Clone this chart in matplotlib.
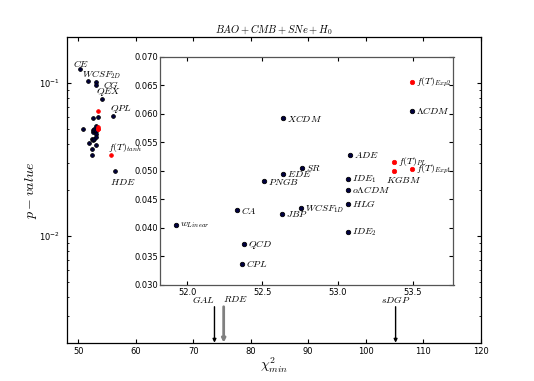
import matplotlib
matplotlib.use("Agg")
import matplotlib.pyplot as plt
from matplotlib.ticker import FormatStrFormatter, MultipleLocator

# models shown in the zoomed inset (and in the main panel)
inset_names = [r"w_{Linear}", "CA", "QCD", "CPL", "PNGB", "EDE", "SR", "JBP",
               r"WCSF_{1D}", "XCDM", "ADE", r"IDE_1", r"o\Lambda CDM", "HLG",
               r"IDE_2", r"f(T)_{PL}", "KGBM", r"f(T)_{Exp1}", r"f(T)_{Exp2}",
               r"\Lambda CDM"]
inset_chi2 = [51.925, 52.33, 52.376, 52.365, 52.511, 52.635, 52.763, 52.628,
              52.756, 52.635, 53.082, 53.07, 53.07, 53.07, 53.07, 53.378,
              53.378, 53.491, 53.491, 53.491]
inset_p = [0.0405, 0.0431, 0.0371, 0.0337, 0.0482, 0.0494, 0.0505, 0.0424,
           0.0434, 0.0592, 0.0527, 0.0486, 0.0467, 0.0442, 0.0392, 0.0516,
           0.0500, 0.0503, 0.0655, 0.0605]
inset_ft = [False] * 15 + [True] * 4 + [False]

# models only visible in the main panel
main_names = ["CE", r"WCSF_{2D}", "", "CG", "QEX", "QPL", r"f(T)_{tanh}", "HDE", ""]
main_chi2 = [50.35, 51.74, 53.03, 53.03, 54.18, 55.99, 55.64, 56.39, 50.87]
main_p = [0.124, 0.104, 0.1015, 0.0976, 0.079, 0.0609, 0.0337, 0.0266, 0.0503]
main_ft = [False, False, False, False, False, False, True, False, False]

# models with p-value below the plotted range
off_names = ["GAL", "RDE", "sDGP"]
off_chi2 = [73.7, 75.3, 105.2]

NAVY, RED = "#000040", "#ff0000"

plt.rcParams.update({
    "mathtext.fontset": "cm", "font.size": 7,
    "xtick.direction": "in", "ytick.direction": "in",
    "xtick.top": True, "ytick.right": True,
    "xtick.labelsize": 6, "ytick.labelsize": 6,
    "xtick.major.size": 3, "ytick.major.size": 3,
    "xtick.minor.size": 1.5, "ytick.minor.size": 1.5,
    "axes.linewidth": 0.9,
})

fig = plt.figure(figsize=(5.34, 3.81), dpi=100)
ax = fig.add_axes([66.7 / 534, 38.3 / 381, 414 / 534, 305.4 / 381])
ax.set_yscale("log")
ax.set_xlim(48, 120)
ax.set_ylim(0.002, 0.2)
ax.xaxis.set_major_locator(MultipleLocator(10))
ax.tick_params(axis="x", pad=3)
ax.tick_params(axis="y", which="both", pad=5)
ax.set_title(r"$BAO+CMB+SNe+H_0$", fontsize=7.5, pad=2)
ax.set_ylabel(r"$p-value$", fontsize=10)
ax.yaxis.set_label_coords(-0.066, 0.5)
ax.set_xlabel(r"$\chi^2_{min}$", fontsize=10)
ax.xaxis.set_label_coords(0.5, -0.044)


def dot(a, x, y, red, ms):
    if red:
        a.plot(x, y, "o", ms=ms, mfc=RED, mec=RED, mew=0.5, zorder=4)
    else:
        a.plot(x, y, "o", ms=ms, mfc=NAVY, mec="k", mew=0.6, zorder=3)


for x, y, r in zip(inset_chi2 + main_chi2, inset_p + main_p, inset_ft + main_ft):
    dot(ax, x, y, r, 2.7)

main_off = {"CE": (1, 6, "center"), r"WCSF_{2D}": (-6, 6, "left"),
            "CG": (7, 0, "left"), "QEX": (-6, 7, "left"), "QPL": (-3, 7, "left"),
            r"f(T)_{tanh}": (-3, 8, "left"), "HDE": (-5, -11, "left")}
for name, x, y in zip(main_names, main_chi2, main_p):
    if name:
        dx, dy, ha = main_off[name]
        ax.annotate(f"${name}$", (x, y), xytext=(dx, dy), textcoords="offset pixels",
                    ha=ha, va="center", fontsize=7)

for name, x in zip(off_names, off_chi2):
    c, lw = ("#808080", 2.0) if name == "RDE" else ("k", 1.0)
    ax.annotate("", xy=(x, 0.002), xytext=(x, 0.00344),
                arrowprops=dict(arrowstyle="-|>", color=c, lw=lw, mutation_scale=5,
                                shrinkA=0, shrinkB=0))
lab_dx = {"GAL": -1.9, "RDE": 2.1, "sDGP": 0.0}
for name, x in zip(off_names, off_chi2):
    ax.text(x + lab_dx[name], 0.00386, f"${name}$", ha="center", va="center", fontsize=7)

# inset
ins = fig.add_axes([160 / 534, 96 / 381, 293.5 / 534, 228.5 / 381])
ins.set_xlim(51.82, 53.77)
ins.set_ylim(0.030, 0.070)
ins.xaxis.set_major_locator(MultipleLocator(0.5))
ins.yaxis.set_major_locator(MultipleLocator(0.005))
ins.xaxis.set_major_formatter(FormatStrFormatter("%.1f"))
ins.yaxis.set_major_formatter(FormatStrFormatter("%.3f"))
ins.tick_params(axis="x", pad=2)
ins.tick_params(axis="y", pad=1.5)
for s in ins.spines.values():
    s.set_color("#555555")

for x, y, r in zip(inset_chi2, inset_p, inset_ft):
    dot(ins, x, y, r, 3.2)
for name, x, y in zip(inset_names, inset_chi2, inset_p):
    if name == "KGBM":
        ins.annotate(f"${name}$", (x, y), xytext=(9, -8.5), textcoords="offset pixels",
                     ha="center", va="center", fontsize=7)
    else:
        ins.annotate(f"${name}$", (x, y), xytext=(4, 0), textcoords="offset pixels",
                     ha="left", va="center", fontsize=7)

fig.savefig("out.png", dpi=100)
